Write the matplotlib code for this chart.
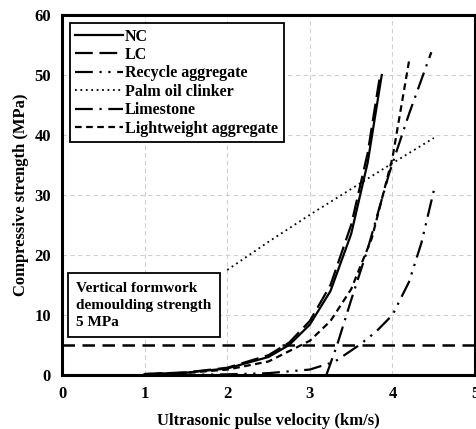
import matplotlib
matplotlib.use("Agg")
import matplotlib.pyplot as plt

# ---- data ----
nc_x = [1.0, 1.5, 2.0, 2.5, 2.75, 3.0, 3.25, 3.5, 3.7, 3.87]
nc_y = [0.14, 0.38, 1.08, 3.0, 5.0, 8.4, 14.0, 23.5, 35.4, 50.0]

lc_x = [1.0, 1.5, 2.0, 2.5, 2.75, 3.0, 3.25, 3.5, 3.7, 3.85]
lc_y = [0.15, 0.42, 1.2, 3.3, 5.4, 9.0, 15.0, 25.0, 37.0, 50.0]

rec_x = [1.4, 2.0, 2.5, 3.0, 3.3, 3.6, 3.8, 4.0, 4.2, 4.35, 4.5]
rec_y = [0.0, 0.1, 0.3, 0.9, 2.2, 5.0, 7.2, 10.0, 15.5, 22.0, 30.7]

poc_x = [2.0, 2.5, 3.0, 3.5, 4.0, 4.5]
poc_y = [17.5, 22.2, 26.7, 31.0, 35.3, 39.5]

lime_x = [3.2, 3.33, 3.5, 3.7, 3.96, 4.2, 4.47]
lime_y = [0.0, 5.0, 12.5, 21.0, 33.6, 43.5, 53.8]

lwa_x = [1.0, 1.5, 2.0, 2.5, 3.0, 3.25, 3.5, 3.75, 4.0, 4.2]
lwa_y = [0.14, 0.35, 0.89, 2.25, 5.7, 9.0, 14.3, 22.8, 36.2, 52.3]

demould = 5.0
x_ticks = [0, 1, 2, 3, 4, 5]
y_ticks = [0, 10, 20, 30, 40, 50, 60]

plt.rcParams['font.family'] = ['Liberation Serif', 'DejaVu Serif']
plt.rcParams['font.weight'] = 'bold'

fig = plt.figure(figsize=(4.77, 4.29), dpi=100)
ax = fig.add_axes([0.130, 0.126, 0.866, 0.839])

lw = 1.6
ax.plot(nc_x, nc_y, color='black', lw=lw, ls='-', label='NC')
ax.plot(lc_x, lc_y, color='black', lw=lw, ls=(0, (8, 3)), label='LC')
ax.plot(rec_x, rec_y, color='black', lw=lw, ls=(0, (8, 3, 1, 3, 1, 3)), label='Recycle aggregate')
ax.plot(poc_x, poc_y, color='black', lw=1.3, ls=(0, (1, 2)), label='Palm oil clinker')
ax.plot(lime_x, lime_y, color='black', lw=lw, ls=(0, (8, 3, 1, 3)), label='Limestone')
ax.plot(lwa_x, lwa_y, color='black', lw=lw, ls=(0, (3, 2)), label='Lightweight aggregate')
ax.axhline(demould, color='black', lw=1.8, ls=(0, (5, 3)))

ax.set_xlim(0, 5)
ax.set_ylim(0, 60)
ax.set_xticks(x_ticks)
ax.set_yticks(y_ticks)
ax.tick_params(length=0, labelsize=12, pad=8)
for t in ax.get_xticklabels() + ax.get_yticklabels():
    t.set_fontweight('bold')
ax.grid(True, color='#d0d0d0', ls=(0, (4, 3)), lw=0.8)
ax.set_axisbelow(True)
for sp in ax.spines.values():
    sp.set_linewidth(2.2)

ax.set_xlabel('Ultrasonic pulse velocity (km/s)', fontsize=12, fontweight='bold', labelpad=8)
ax.set_ylabel('Compressive strength (MPa)', fontsize=12, fontweight='bold', labelpad=4)

leg = ax.legend(loc='upper left', bbox_to_anchor=(0.019, 0.978), fancybox=False,
                framealpha=1, edgecolor='black', fontsize=11.5, handlelength=3.0,
                handletextpad=0.1, labelspacing=0.15, borderpad=0.35, borderaxespad=0)
leg.get_frame().set_linewidth(1.3)
for t in leg.get_texts():
    t.set_fontweight('bold')

ax.text(0.035, 0.194, 'Vertical formwork\ndemoulding strength\n5 MPa', transform=ax.transAxes,
        fontsize=11, fontweight='bold', va='center', ha='left', linespacing=1.4,
        bbox=dict(boxstyle='square,pad=0.55', fc='white', ec='black', lw=1.3))

fig.savefig('out.png', dpi=100)
